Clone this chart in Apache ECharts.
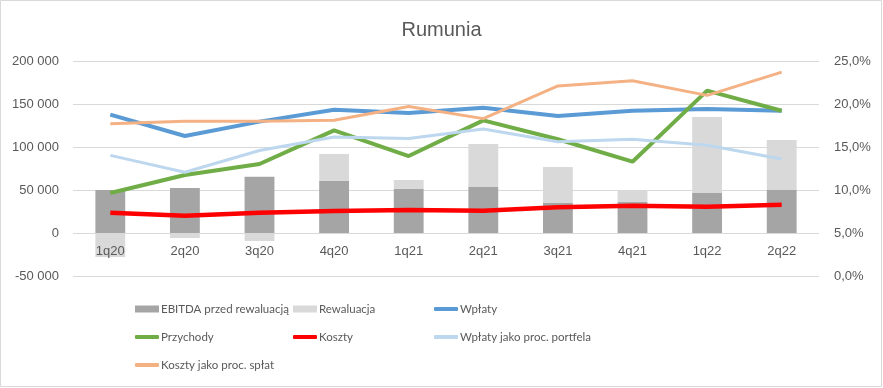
<!DOCTYPE html>
<html>
<head>
<meta charset="utf-8">
<script src="https://cdn.jsdelivr.net/npm/echarts@6/dist/echarts.min.js"></script>
<style>
html,body{margin:0;padding:0;background:#fff;}
#c{width:883px;height:388px;}
</style>
</head>
<body>
<div id="c"></div>
<script>
const title = 'Rumunia';
const categories = ['1q20','2q20','3q20','4q20','1q21','2q21','3q21','4q21','1q22','2q22'];
const ebitda = [50000, 52300, 65500, 60500, 51200, 53500, 34900, 36000, 46500, 50000];
const rewaluacja = [-28000, -5800, -9300, 31400, 10400, 50000, 41800, 13600, 88400, 58100];
const wplaty = [137600, 112800, 129500, 143400, 139500, 145700, 136000, 142200, 144200, 142200];
const przychody = [46500, 67400, 80200, 119400, 89500, 131000, 109000, 82900, 165500, 142200];
const koszty = [23600, 20200, 23600, 25600, 26700, 26000, 29800, 31800, 30600, 32900];
const wplatyProc = [0.1403, 0.1206, 0.146, 0.1616, 0.160, 0.171, 0.156, 0.159, 0.152, 0.136];
const kosztyProc = [0.177, 0.180, 0.180, 0.181, 0.197, 0.183, 0.221, 0.227, 0.210, 0.237];
const seriesNames = ['EBITDA przed rewaluacją','Rewaluacja','Wpłaty','Przychody','Koszty','Wpłaty jako proc. portfela','Koszty jako proc. spłat'];

const FONT = 'Liberation Sans';
const LFONT = 'Lato';
const TXT = '#595959';
function fmtNum(v){
  const s = Math.abs(v).toString().replace(/\B(?=(\d{3})+(?!\d))/g, ' ');
  return (v < 0 ? '-' : '') + s;
}
function fmtPct(v){
  return (v*100).toFixed(1).replace('.', ',') + '%';
}
const legendPos = [
  {left:135, top:303, icon:'rect', h:7},
  {left:293, top:303, icon:'rect', h:7},
  {left:434, top:303, icon:'roundRect', h:4},
  {left:135, top:331, icon:'roundRect', h:4},
  {left:293, top:331, icon:'roundRect', h:4},
  {left:434, top:331, icon:'roundRect', h:4},
  {left:135, top:359, icon:'roundRect', h:4}
];
const legends = seriesNames.map((n,i)=>({
  data:[n], left:legendPos[i].left, top:legendPos[i].top,
  icon:legendPos[i].icon, itemWidth:24, itemHeight:legendPos[i].h, itemGap:0,
  textStyle:{fontFamily:LFONT, fontSize:11.5, color:TXT, padding:[0,0,0,-3]},
  padding:0, selectedMode:false
}));

const chart = echarts.init(document.getElementById('c'), null, {renderer:'canvas'});
chart.setOption({
  animation:false,
  backgroundColor:'#fff',
  title:{text:title, left:'center', top:15, textStyle:{fontFamily:FONT, fontSize:20, fontWeight:'normal', color:TXT}},
  legend:legends,
  graphic:[{type:'rect', shape:{x:0.5,y:0.5,width:881,height:386}, style:{fill:null, stroke:'#D9D9D9', lineWidth:1}, silent:true}],
  grid:{left:73, right:64, top:61, bottom:112},
  xAxis:{
    type:'category', data:categories,
    offset:-43, z:20,
    axisLine:{show:false, onZero:false},
    axisTick:{show:false},
    axisLabel:{fontFamily:FONT, fontSize:13, color:TXT, margin:12}
  },
  yAxis:[
    {type:'value', min:-50000, max:200000, interval:50000,
     axisLine:{show:false}, axisTick:{show:false},
     splitLine:{lineStyle:{color:'#D9D9D9'}},
     axisLabel:{fontFamily:FONT, fontSize:13, color:TXT, margin:14, formatter:fmtNum}},
    {type:'value', min:0, max:0.25, interval:0.05,
     axisLine:{show:false}, axisTick:{show:false}, splitLine:{show:false},
     axisLabel:{fontFamily:FONT, fontSize:13, color:TXT, margin:15, formatter:fmtPct}}
  ],
  series:[
    {name:seriesNames[0], type:'bar', stack:'b', data:ebitda, barWidth:'40%', itemStyle:{color:'#A5A5A5'}},
    {name:seriesNames[1], type:'bar', stack:'b', data:rewaluacja, barWidth:'40%', itemStyle:{color:'#D9D9D9'}},
    {name:seriesNames[2], type:'line', data:wplaty, symbol:'none', lineStyle:{width:4, color:'#5B9BD5'}, itemStyle:{color:'#5B9BD5'}},
    {name:seriesNames[3], type:'line', data:przychody, symbol:'none', lineStyle:{width:4, color:'#70AD47'}, itemStyle:{color:'#70AD47'}},
    {name:seriesNames[4], type:'line', data:koszty, symbol:'none', lineStyle:{width:4.5, color:'#FF0000'}, itemStyle:{color:'#FF0000'}},
    {name:seriesNames[5], type:'line', yAxisIndex:1, data:wplatyProc, symbol:'none', lineStyle:{width:3, color:'#BDD7EE'}, itemStyle:{color:'#BDD7EE'}},
    {name:seriesNames[6], type:'line', yAxisIndex:1, data:kosztyProc, symbol:'none', lineStyle:{width:3, color:'#F4B183'}, itemStyle:{color:'#F4B183'}}
  ]
});
</script>
</body>
</html>
